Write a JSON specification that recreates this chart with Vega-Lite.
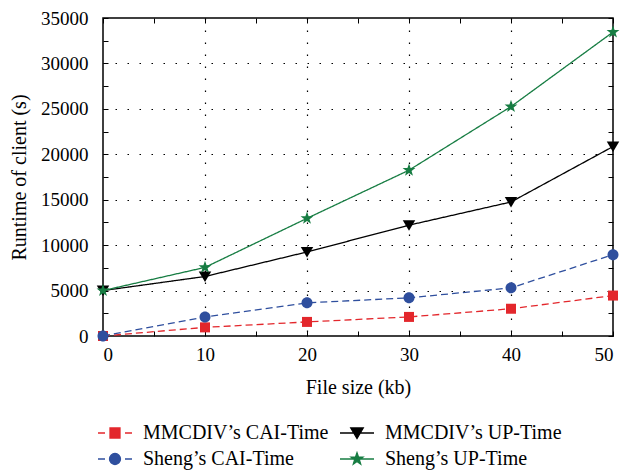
{
  "$schema": "https://vega.github.io/schema/vega-lite/v6.json",
  "width": 510,
  "height": 318,
  "autosize": {"type": "none"},
  "padding": {"left": 103, "top": 18, "right": 9, "bottom": 137},
  "background": "white",
  "config": {
    "font": "Liberation Serif",
    "view": {"stroke": "black", "strokeWidth": 1.5},
    "axis": {
      "labelFont": "Liberation Serif", "labelFontSize": 19, "labelColor": "black",
      "titleFont": "Liberation Serif", "titleFontSize": 20, "titleColor": "black", "titleFontWeight": "normal",
      "tickColor": "black", "tickSize": -5, "tickWidth": 1, "domain": false,
      "gridColor": "black", "gridDash": [1.5, 10.5], "gridWidth": 1.2
    },
    "legend": {"labelFont": "Liberation Serif", "labelFontSize": 20, "labelColor": "black", "labelLimit": 0,
      "title": null, "orient": "none", "legendX": 2, "legendY": 405, "columns": 2, "direction": "horizontal",
      "symbolSize": 100, "labelOffset": 18, "columnPadding": 8, "rowPadding": 6, "symbolOpacity": 1, "symbolStrokeWidth": 1.3}
  },
  "data": {"values": [
    {"size": 0, "series": "MMCDIV’s CAI-Time", "runtime": 0},
    {"size": 10, "series": "MMCDIV’s CAI-Time", "runtime": 950},
    {"size": 20, "series": "MMCDIV’s CAI-Time", "runtime": 1550},
    {"size": 30, "series": "MMCDIV’s CAI-Time", "runtime": 2100},
    {"size": 40, "series": "MMCDIV’s CAI-Time", "runtime": 3000},
    {"size": 50, "series": "MMCDIV’s CAI-Time", "runtime": 4450},
    {"size": 0, "series": "Sheng’s CAI-Time", "runtime": 0},
    {"size": 10, "series": "Sheng’s CAI-Time", "runtime": 2100},
    {"size": 20, "series": "Sheng’s CAI-Time", "runtime": 3650},
    {"size": 30, "series": "Sheng’s CAI-Time", "runtime": 4200},
    {"size": 40, "series": "Sheng’s CAI-Time", "runtime": 5300},
    {"size": 50, "series": "Sheng’s CAI-Time", "runtime": 8950},
    {"size": 0, "series": "MMCDIV’s UP-Time", "runtime": 5000},
    {"size": 10, "series": "MMCDIV’s UP-Time", "runtime": 6550},
    {"size": 20, "series": "MMCDIV’s UP-Time", "runtime": 9250},
    {"size": 30, "series": "MMCDIV’s UP-Time", "runtime": 12200},
    {"size": 40, "series": "MMCDIV’s UP-Time", "runtime": 14750},
    {"size": 50, "series": "MMCDIV’s UP-Time", "runtime": 20850},
    {"size": 0, "series": "Sheng’s UP-Time", "runtime": 5000},
    {"size": 10, "series": "Sheng’s UP-Time", "runtime": 7550},
    {"size": 20, "series": "Sheng’s UP-Time", "runtime": 12950},
    {"size": 30, "series": "Sheng’s UP-Time", "runtime": 18250},
    {"size": 40, "series": "Sheng’s UP-Time", "runtime": 25250},
    {"size": 50, "series": "Sheng’s UP-Time", "runtime": 33450}
  ]},
  "layer": [
    {
      "mark": {"type": "line", "strokeWidth": 1.3},
      "encoding": {
        "x": {"field": "size", "type": "quantitative", "scale": {"domain": [0, 50], "nice": false},
          "axis": {"orient": "bottom", "values": [0,5,10,15,20,25,30,35,40,45,50], "labelExpr": "datum.value % 10 === 0 ? datum.label : ''",
            "format": "d", "labelPadding": 14, "title": "File size (kb)", "titlePadding": 13, "grid": true,
            "gridOpacity": {"condition": {"test": "datum.value % 10 === 0 && datum.value > 0 && datum.value < 50", "value": 1}, "value": 0}}},
        "y": {"field": "runtime", "type": "quantitative", "scale": {"domain": [0, 35000], "nice": false},
          "axis": {"orient": "left", "values": [0,2500,5000,7500,10000,12500,15000,17500,20000,22500,25000,27500,30000,32500,35000],
            "labelExpr": "datum.value % 5000 === 0 ? datum.label : ''", "format": "d", "labelPadding": 20,
            "title": "Runtime of client (s)", "titlePadding": 11, "grid": true,
            "gridOpacity": {"condition": {"test": "datum.value % 5000 === 0 && datum.value > 0 && datum.value < 35000", "value": 1}, "value": 0}}},
        "color": {"field": "series", "type": "nominal",
          "scale": {"domain": ["MMCDIV’s CAI-Time", "MMCDIV’s UP-Time", "Sheng’s CAI-Time", "Sheng’s UP-Time"],
                    "range": ["#e3272c", "#000000", "#2f4f9e", "#177d43"]},
          "legend": null},
        "strokeDash": {"field": "series", "type": "nominal",
          "scale": {"domain": ["MMCDIV’s CAI-Time", "MMCDIV’s UP-Time", "Sheng’s CAI-Time", "Sheng’s UP-Time"],
                    "range": [[7, 4], [1, 0], [7, 4], [1, 0]]},
          "legend": null}
      }
    },
    {
      "mark": {"type": "point", "filled": true, "opacity": 1, "size": 100},
      "encoding": {
        "x": {"field": "size", "type": "quantitative", "scale": {"domain": [0, 50], "nice": false},
          "axis": {"orient": "top", "values": [0,5,10,15,20,25,30,35,40,45,50], "labels": false, "title": null, "grid": false}},
        "y": {"field": "runtime", "type": "quantitative", "scale": {"domain": [0, 35000], "nice": false},
          "axis": {"orient": "right", "values": [0,2500,5000,7500,10000,12500,15000,17500,20000,22500,25000,27500,30000,32500,35000], "labels": false, "title": null, "grid": false}},
        "color": {"field": "series", "type": "nominal",
          "scale": {"domain": ["MMCDIV’s CAI-Time", "MMCDIV’s UP-Time", "Sheng’s CAI-Time", "Sheng’s UP-Time"],
                    "range": ["#e3272c", "#000000", "#2f4f9e", "#177d43"]},
          "legend": null},
        "shape": {"field": "series", "type": "nominal",
          "scale": {"domain": ["MMCDIV’s CAI-Time", "MMCDIV’s UP-Time", "Sheng’s CAI-Time", "Sheng’s UP-Time"],
                    "range": ["M-1,-1H1V1H-1Z", "M-1.25,-1H1.25L0,1.1Z", "M1.1,0A1.1,1.1 0 1 1 -1.1,0A1.1,1.1 0 1 1 1.1,0Z",
                              "M0,-1.35L0.318,-0.437L1.284,-0.417L0.514,0.167L0.794,1.092L0,0.54L-0.794,1.092L-0.514,0.167L-1.284,-0.417L-0.318,-0.437Z"]},
          "legend": null}
      }
    },
    {
      "mark": {"type": "point", "filled": true, "opacity": 0, "size": 100, "strokeWidth": 1.3,
        "stroke": {"expr": "(datum.series || datum.value) === 'MMCDIV’s CAI-Time' ? '#e3272c' : (datum.series || datum.value) === 'MMCDIV’s UP-Time' ? '#000000' : (datum.series || datum.value) === 'Sheng’s CAI-Time' ? '#2f4f9e' : '#177d43'"}},
      "encoding": {
        "x": {"field": "size", "type": "quantitative", "scale": {"domain": [0, 50], "nice": false}, "axis": null},
        "y": {"field": "runtime", "type": "quantitative", "scale": {"domain": [0, 35000], "nice": false}, "axis": null},
        "color": {"field": "series", "type": "nominal",
          "scale": {"domain": ["MMCDIV’s CAI-Time", "MMCDIV’s UP-Time", "Sheng’s CAI-Time", "Sheng’s UP-Time"],
                    "range": ["#e3272c", "#000000", "#2f4f9e", "#177d43"]}},
        "shape": {"field": "series", "type": "nominal",
          "scale": {"domain": ["MMCDIV’s CAI-Time", "MMCDIV’s UP-Time", "Sheng’s CAI-Time", "Sheng’s UP-Time"],
                    "range": ["M-3.4,0H-2M2,0H3.4M-1,-1H1V1H-1Z", "M-3.4,0H3.4M-1.25,-1H1.25L0,1.1Z",
                              "M-3.4,0H-2M2,0H3.4M1.1,0A1.1,1.1 0 1 1 -1.1,0A1.1,1.1 0 1 1 1.1,0Z",
                              "M-3.4,0H3.4M0,-1.25L0.294,-0.405L1.189,-0.386L0.476,0.155L0.735,1.011L0,0.5L-0.735,1.011L-0.476,0.155L-1.189,-0.386L-0.294,-0.405Z"]}}
      }
    }
  ],
  "resolve": {"axis": {"x": "independent", "y": "independent"}, "scale": {"shape": "independent", "color": "independent"}}
}
